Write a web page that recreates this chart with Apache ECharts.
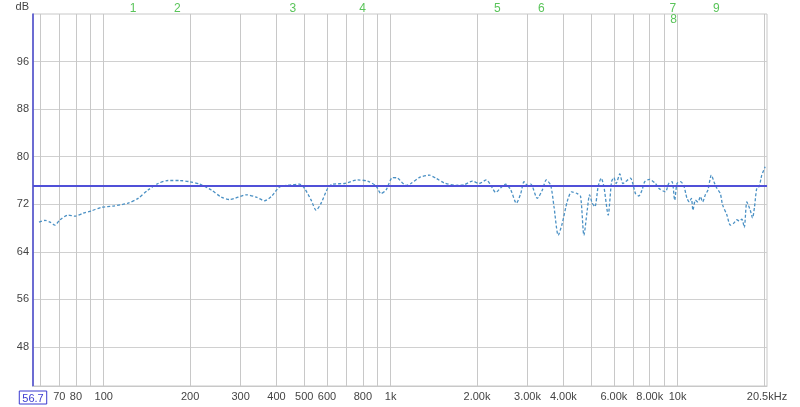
<!DOCTYPE html>
<html><head><meta charset="utf-8">
<script src="https://cdn.jsdelivr.net/npm/echarts@6/dist/echarts.min.js"></script>
<style>html,body{margin:0;padding:0;background:#fff}#c{width:800px;height:407px}</style>
</head><body><div id="c"></div>
<script>
// Frequency response (Hz, dB)
const freqHz = [59.5,62.4,65.0,67.6,70.4,75.2,79.4,84.8,90.7,98.3,107.9,121.7,131.8,142.7,154.6,167.6,184,199.4,216,237.2,257,274.8,314.1,340.2,363.6,383.6,410,438.1,481.2,500.8,528.4,550,572.6,603.7,628.4,690.1,767.6,831.6,889.4,925.8,963.6,1016,1057,1131,1177,1258,1363,1438,1537,1688,1804,1928,2034,2157,2234,2325,2421,2519,2623,2743,2841,2917,2995,3078,3245,3378,3488,3613,3710,3839,3964,4127,4275,4471,4594,4717,4844,4937,5041,5151,5289,5418,5537,5731,5888,5998,6109,6293,6446,6587,6855,6982,7135,7326,7522,7687,7982,8375,8600,9073,9316,9565,9774,9956,10230,10506,10787,10996,11173,11317,11537,11780,12009,12232,12499,12762,13114,13466,13716,14094,14356,14859,15270,15678,16099,16411,16756,17081,17440,17920,18253,18548,18886,19253,19659,20200];
const levelDb = [69.0,69.3,69.0,68.5,69.4,70.2,70.0,70.5,70.9,71.5,71.7,72.2,73.0,74.4,75.5,76.0,76.0,75.8,75.4,74.4,73.2,72.8,73.6,73.2,72.6,73.3,74.9,75.2,75.4,74.7,72.7,71.0,72.2,74.7,75.4,75.5,76.1,75.9,75.1,73.8,74.4,76.5,76.4,75.2,75.5,76.5,76.9,76.4,75.6,75.2,75.3,75.9,75.5,76.1,75.2,74.0,74.8,75.4,74.4,72.2,73.8,75.8,75.2,75.4,73.0,74.4,76.1,75.2,71.6,66.8,68.8,72.5,74.1,73.8,73.3,66.8,71.0,73.6,72.2,71.6,75.0,76.4,75.0,70.2,75.8,76.5,75.5,77.1,75.5,75.8,76.4,75.5,73.8,73.4,74.4,75.8,76.2,75.5,74.7,74.1,75.5,75.8,72.7,75.5,75.8,75.2,73.0,72.4,73.0,71.0,72.7,72.4,73.3,72.4,73.6,74.4,76.9,75.5,74.7,73.8,71.9,70.2,68.5,68.8,69.4,69.2,69.5,68.1,72.4,71.0,69.7,71.6,74.7,75.0,76.9,78.3];
const referenceDb = 75.1;

// Axes
const xMin = 56.7, xMax = 20500;
const xGridValues = [60,70,80,90,100,200,300,400,500,600,700,800,900,1000,2000,3000,4000,5000,6000,7000,8000,9000,10000,20000];
const xLabelValues = [56.7,70,80,100,200,300,400,500,600,800,1000,2000,3000,4000,6000,8000,10000,20500];
const xLabelTexts = ['56.7','70','80','100','200','300','400','500','600','800','1k','2.00k','3.00k','4.00k','6.00k','8.00k','10k','20.5kHz'];
const yMin = 41.45, yMax = 104;
const yTickValues = [48,56,64,72,80,88,96];

// Markers
const markerFreqs = [126.6,180.6,456,799,2355,3350,9621,9680,13650];
const markerNames = ['1','2','3','4','5','6','7','8','9'];
const markerRows  = [0,0,0,0,0,0,0,1,0];

const FONT = '"Liberation Sans", Arial, sans-serif';

function xLabel(value){
  let best=-1, bd=1e9;
  const cands=[value, Math.pow(10,value)];
  for (const v of cands){
    xLabelValues.forEach((t,i)=>{const d=Math.abs(Math.log10(v)-Math.log10(t)); if(d<bd){bd=d;best=i;}});
  }
  if (best<0 || bd>0.01) return '';
  return best===0 ? '{box|'+xLabelTexts[0]+'}' : xLabelTexts[best];
}

const chart = echarts.init(document.getElementById('c'), null, {renderer:'canvas'});
chart.setOption({
  animation:false,
  backgroundColor:'#fff',
  grid:{left:33,right:33,top:14,bottom:21,show:true,borderColor:'#c8c8c8',borderWidth:1},
  xAxis:[{
    type:'log', logBase:10, min:xMin, max:xMax,
    axisLine:{show:true,lineStyle:{color:'#c8c8c8'}},
    axisTick:{show:false, customValues:xGridValues},
    splitLine:{show:true,lineStyle:{color:'#c8c8c8',width:1}},
    minorSplitLine:{show:false},
    axisLabel:{show:false}
  },{
    type:'log', logBase:10, min:xMin, max:xMax, position:'bottom',
    axisLine:{show:false}, axisTick:{show:false, customValues:xLabelValues}, splitLine:{show:false},
    axisLabel:{show:true, customValues:xLabelValues, showMinLabel:true, showMaxLabel:true, hideOverlap:false,
      margin:5, color:'#444', fontFamily:FONT, fontSize:11, formatter:xLabel,
      rich:{box:{color:'#3a3ad0',borderColor:'#3a3ad0',borderWidth:1,padding:[2,3,0,3],fontFamily:FONT,fontSize:11}}}
  }],
  yAxis:{
    type:'value', min:yMin, max:yMax,
    name:'dB', nameLocation:'end', nameGap:2,
    nameTextStyle:{align:'right',verticalAlign:'bottom',padding:[0,4,0,0],color:'#444',fontFamily:FONT,fontSize:11},
    axisLine:{show:true,lineStyle:{color:'#4545cc',width:1.5}},
    axisTick:{show:false, customValues:yTickValues},
    splitLine:{show:true,lineStyle:{color:'#d0d0d0',width:1}},
    axisLabel:{customValues:yTickValues, margin:4, color:'#444', fontFamily:FONT, fontSize:11}
  },
  series:[{
    type:'line', xAxisIndex:0,
    data:freqHz.map((f,i)=>[f,levelDb[i]]),
    showSymbol:false, symbol:'none', smooth:0.25,
    lineStyle:{color:'#4a90c4',width:1.3,type:[3,2]},
    markLine:{silent:true,symbol:'none',label:{show:false},
      lineStyle:{color:'#5050d8',width:2,type:'solid'},
      data:[{yAxis:referenceDb}]},
    z:3
  },{
    type:'scatter', xAxisIndex:0, clip:false, symbolSize:0,
    data:markerFreqs.map((f,i)=>(markerRows[i]===0
      ? {value:[f,yMax], name:markerNames[i]}
      : {value:[f,yMax], name:markerNames[i], label:{offset:[0,6]}})),
    label:{show:true, position:'inside', offset:[0,-5], formatter:p=>p.name, color:'#2fb52f', fontFamily:FONT, fontSize:12},
    z:4
  }]
});
</script></body></html>
